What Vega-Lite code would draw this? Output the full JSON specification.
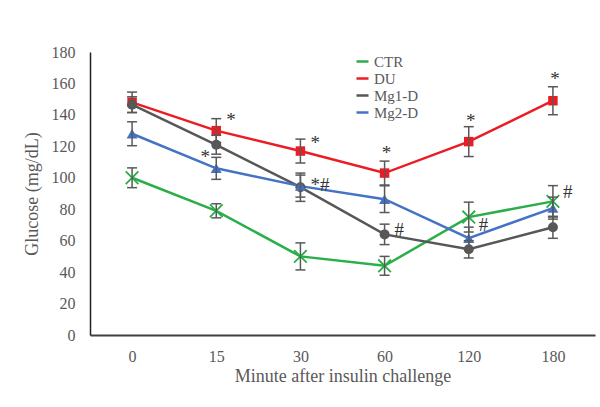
{
  "$schema": "https://vega.github.io/schema/vega-lite/v6.json",
  "autosize": {"type": "none"},
  "width": 505,
  "height": 283,
  "padding": {"left": 90, "top": 52, "right": 5, "bottom": 72},
  "background": "white",
  "config": {
    "view": {"stroke": null},
    "font": "Liberation Serif",
    "axis": {"grid": false, "ticks": false, "labelFont": "Liberation Serif", "titleFont": "Liberation Serif", "labelColor": "#595959", "titleColor": "#595959", "titleFontWeight": "normal", "labelOverlap": false},
    "legend": {"labelFont": "Liberation Serif"}
  },
  "datasets": {
    "glucose": [
      {"minute": "0", "group": "CTR", "mean": 100, "lo": 93.7, "hi": 106.3},
      {"minute": "15", "group": "CTR", "mean": 79, "lo": 74.5, "hi": 83.5},
      {"minute": "30", "group": "CTR", "mean": 50, "lo": 41.4, "hi": 58.6},
      {"minute": "60", "group": "CTR", "mean": 44, "lo": 38, "hi": 50},
      {"minute": "120", "group": "CTR", "mean": 75, "lo": 65.5, "hi": 84.5},
      {"minute": "180", "group": "CTR", "mean": 85, "lo": 75, "hi": 95},
      {"minute": "0", "group": "DU", "mean": 148, "lo": 141.5, "hi": 154.5},
      {"minute": "15", "group": "DU", "mean": 130, "lo": 122.4, "hi": 137.6},
      {"minute": "30", "group": "DU", "mean": 117, "lo": 109.4, "hi": 124.6},
      {"minute": "60", "group": "DU", "mean": 103, "lo": 95.4, "hi": 110.6},
      {"minute": "120", "group": "DU", "mean": 123, "lo": 113.5, "hi": 132.5},
      {"minute": "180", "group": "DU", "mean": 149, "lo": 140.1, "hi": 157.9},
      {"minute": "0", "group": "Mg1-D", "mean": 146.5, "lo": 141.5, "hi": 151.5},
      {"minute": "15", "group": "Mg1-D", "mean": 121, "lo": 115, "hi": 127},
      {"minute": "30", "group": "Mg1-D", "mean": 94, "lo": 85, "hi": 103},
      {"minute": "60", "group": "Mg1-D", "mean": 64, "lo": 57.5, "hi": 70.5},
      {"minute": "120", "group": "Mg1-D", "mean": 54.5, "lo": 49, "hi": 60},
      {"minute": "180", "group": "Mg1-D", "mean": 68.5, "lo": 61.5, "hi": 75.5},
      {"minute": "0", "group": "Mg2-D", "mean": 128, "lo": 120.4, "hi": 135.6},
      {"minute": "15", "group": "Mg2-D", "mean": 106, "lo": 99, "hi": 113},
      {"minute": "30", "group": "Mg2-D", "mean": 94.7, "lo": 87.7, "hi": 101.7},
      {"minute": "60", "group": "Mg2-D", "mean": 86.4, "lo": 77.9, "hi": 94.9},
      {"minute": "120", "group": "Mg2-D", "mean": 61.6, "lo": 54.6, "hi": 68.6},
      {"minute": "180", "group": "Mg2-D", "mean": 80.7, "lo": 73.7, "hi": 87.7}
    ],
    "marksRight": [
      {"minute": "15", "mean": 137, "label": "*"},
      {"minute": "30", "mean": 122, "label": "*"},
      {"minute": "30", "mean": 95.5, "label": "*#"},
      {"minute": "60", "mean": 67, "label": "#"},
      {"minute": "120", "mean": 70, "label": "#"},
      {"minute": "180", "mean": 91, "label": "#"}
    ],
    "marksAbove": [
      {"minute": "60", "mean": 116, "label": "*"},
      {"minute": "120", "mean": 136, "label": "*"},
      {"minute": "180", "mean": 163, "label": "*"}
    ],
    "marksLeft": [
      {"minute": "15", "mean": 113, "label": "*"}
    ]
  },
  "encoding": {
    "x": {"field": "minute", "type": "ordinal", "title": "Minute after insulin challenge", "scale": {"type": "point", "padding": 0.5, "domain": ["0", "15", "30", "60", "120", "180"]},
          "axis": {"title": "Minute after insulin challenge", "labelAngle": 0, "labelFontSize": 16, "titleFontSize": 18, "labelPadding": 13, "titlePadding": 3, "domainColor": "#404040", "domainWidth": 2}},
    "y": {"field": "mean", "type": "quantitative", "title": "Glucose (mg/dL)", "scale": {"domain": [0, 180], "nice": false},
          "axis": {"title": "Glucose (mg/dL)", "values": [0, 20, 40, 60, 80, 100, 120, 140, 160, 180], "labelOverlap": false, "labelFontSize": 16, "titleFontSize": 18, "labelPadding": 15, "titlePadding": 10, "domainColor": "#222222", "domainWidth": 1.5}}
  },
  "layer": [
    {
      "data": {"name": "glucose"},
      "mark": {"type": "line", "strokeWidth": 2.5},
      "encoding": {
        "color": {"field": "group", "type": "nominal", "scale": {"domain": ["CTR", "DU", "Mg1-D", "Mg2-D"], "range": ["#2aae4a", "#ec1c24", "#575757", "#4472c4"]},
          "legend": {
            "orient": "none", "legendX": 265, "legendY": 2, "title": null, "padding": 0,
            "symbolType": "stroke", "symbolSize": 144, "symbolStrokeWidth": 2.5,
            "labelFontSize": 15, "labelColor": "#595959", "labelOffset": 4, "rowPadding": 1
          }},
        "detail": {"field": "group"}
      }
    },
    {
      "data": {"name": "glucose"},
      "transform": [{"filter": "datum.group === 'CTR'"}],
      "mark": {"type": "point", "shape": "M-1,-1L1,1M-1,1L1,-1", "size": 160, "filled": false, "opacity": 1, "strokeWidth": 1.8, "stroke": "#2aae4a"},
      "encoding": {}
    },
    {
      "data": {"name": "glucose"},
      "transform": [{"filter": "datum.group === 'DU'"}],
      "mark": {"type": "point", "shape": "square", "size": 90, "filled": true, "opacity": 1, "color": "#ec1c24"},
      "encoding": {}
    },
    {
      "data": {"name": "glucose"},
      "transform": [{"filter": "datum.group === 'Mg1-D'"}],
      "mark": {"type": "point", "shape": "circle", "size": 100, "filled": true, "opacity": 1, "color": "#575757"},
      "encoding": {}
    },
    {
      "data": {"name": "glucose"},
      "transform": [{"filter": "datum.group === 'Mg2-D'"}],
      "mark": {"type": "point", "shape": "triangle-up", "size": 120, "filled": true, "opacity": 1, "color": "#4472c4"},
      "encoding": {}
    },
    {
      "data": {"name": "glucose"},
      "mark": {"type": "rule", "color": "#595959", "strokeWidth": 1.5},
      "encoding": {
        "y": {"field": "lo", "type": "quantitative", "title": "Glucose (mg/dL)", "scale": {"domain": [0, 180], "nice": false},
              "axis": {"title": "Glucose (mg/dL)", "values": [0, 20, 40, 60, 80, 100, 120, 140, 160, 180], "labelOverlap": false, "labelFontSize": 16, "titleFontSize": 18, "labelPadding": 15, "titlePadding": 10, "domainColor": "#222222", "domainWidth": 1.5}},
        "y2": {"field": "hi"}
      }
    },
    {
      "data": {"name": "glucose"},
      "mark": {"type": "tick", "orient": "horizontal", "size": 10, "thickness": 1.5, "color": "#595959", "opacity": 1},
      "encoding": {
        "y": {"field": "lo", "type": "quantitative", "title": "Glucose (mg/dL)", "scale": {"domain": [0, 180], "nice": false},
              "axis": {"title": "Glucose (mg/dL)", "values": [0, 20, 40, 60, 80, 100, 120, 140, 160, 180], "labelOverlap": false, "labelFontSize": 16, "titleFontSize": 18, "labelPadding": 15, "titlePadding": 10, "domainColor": "#222222", "domainWidth": 1.5}}
      }
    },
    {
      "data": {"name": "glucose"},
      "mark": {"type": "tick", "orient": "horizontal", "size": 10, "thickness": 1.5, "color": "#595959", "opacity": 1},
      "encoding": {
        "y": {"field": "hi", "type": "quantitative", "title": "Glucose (mg/dL)", "scale": {"domain": [0, 180], "nice": false},
              "axis": {"title": "Glucose (mg/dL)", "values": [0, 20, 40, 60, 80, 100, 120, 140, 160, 180], "labelOverlap": false, "labelFontSize": 16, "titleFontSize": 18, "labelPadding": 15, "titlePadding": 10, "domainColor": "#222222", "domainWidth": 1.5}}
      }
    },
    {
      "data": {"name": "marksRight"},
      "mark": {"type": "text", "align": "left", "baseline": "middle", "dx": 10, "fontSize": 19, "color": "#333333"},
      "encoding": {"text": {"field": "label"}}
    },
    {
      "data": {"name": "marksAbove"},
      "mark": {"type": "text", "align": "center", "baseline": "middle", "dx": 2, "fontSize": 19, "color": "#333333"},
      "encoding": {"text": {"field": "label"}}
    },
    {
      "data": {"name": "marksLeft"},
      "mark": {"type": "text", "align": "center", "baseline": "middle", "dx": -11, "fontSize": 19, "color": "#333333"},
      "encoding": {"text": {"field": "label"}}
    }
  ]
}
